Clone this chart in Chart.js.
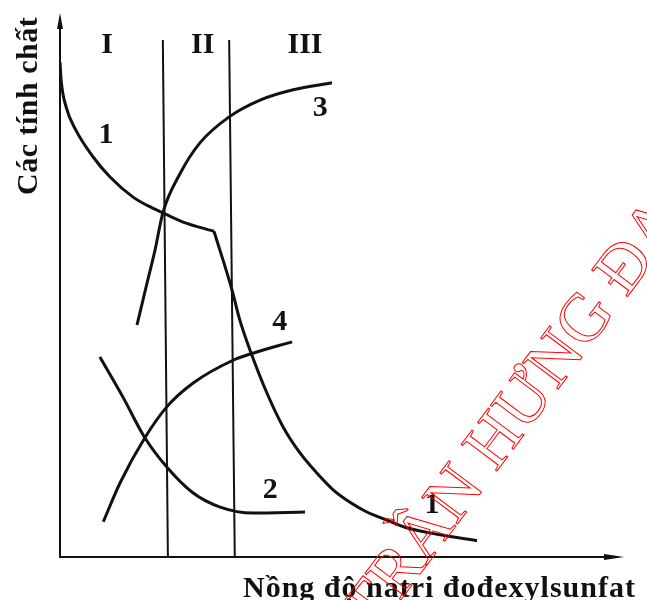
<!DOCTYPE html>
<html>
<head>
<meta charset="utf-8">
<script src="https://cdn.jsdelivr.net/npm/chart.js@4/dist/chart.umd.min.js"></script>
<style>
  body { margin: 0; background: #fff; }
  #grafico { display: block; }
</style>
</head>
<body>
<canvas id="grafico" width="647" height="600"></canvas>
<script>
// DATOS (unidades arbitrarias 0-100)

// Curva 1, antes del quiebre
var curva1aX = [0, 0.2, 1.1, 2.8, 5.9, 8.9, 13.0, 16.4, 18.7, 21.9, 27.4];
var curva1aY = [91.3, 88.0, 83.0, 78.8, 73.8, 70.1, 66.4, 64.4, 63.3, 61.8, 60.1];
// Curva 1, despues del quiebre
var curva1bX = [27.4, 30.6, 32.0, 33.8, 36.8, 39.7, 42.7, 45.7, 48.6, 51.6, 54.6, 58.2, 61.7, 67.6, 74.2];
var curva1bY = [60.1, 49.3, 43.7, 38.2, 30.3, 24.0, 19.2, 15.5, 12.4, 10.1, 8.3, 6.8, 5.4, 4.1, 3.0];

var curva2X = [7.1, 11.2, 15.1, 19.0, 23.7, 28.5, 34.3, 43.6];
var curva2Y = [36.9, 29.5, 22.0, 16.6, 11.8, 9.2, 8.1, 8.3];

var curva3X = [13.7, 15.5, 16.9, 18.3, 21.4, 24.9, 30.1, 35.6, 41.5, 48.4];
var curva3Y = [42.8, 50.6, 56.6, 63.5, 70.8, 76.4, 81.2, 84.3, 86.2, 87.5];

var curva4X = [7.7, 10.7, 15.1, 19.0, 23.7, 30.8, 34.3, 41.3];
var curva4Y = [6.5, 13.7, 22.0, 27.7, 32.1, 36.3, 37.6, 39.7];

// Limites de las zonas I, II, III (arriba y abajo)
var limite1X = [18.3, 19.2];
var limite2X = [30.1, 31.1];
var limiteY = [95.4, 0];

var zonas = ['I', 'II', 'III'];
var etiquetasCurvas = ['1', '3', '4', '2', '1'];

var tituloX = 'Nồng độ natri đođexylsunfat';
var tituloY = 'Các tính chất';
var marcaAgua = 'TRẦN HƯNG ĐẠO';

// Juntar x e y en puntos
function puntos(xs, ys) {
    var res = [];
    for (var i = 0; i < xs.length; i++) {
        res.push({ x: xs[i], y: ys[i] });
    }
    return res;
}

function curva(xs, ys, ancho) {
    return {
        data: puntos(xs, ys),
        borderColor: '#111',
        borderWidth: ancho,
        pointRadius: 0,
        fill: false,
        cubicInterpolationMode: 'monotone'
    };
}

function recta(xs, ys) {
    return {
        data: puntos(xs, ys),
        borderColor: '#111',
        borderWidth: 2,
        pointRadius: 0,
        fill: false,
        tension: 0
    };
}

var fuente = '"Liberation Serif", "DejaVu Serif", serif';

// Marca de agua: centro de la R y centro de la Đ
function dibujarMarca(ctx) {
    var rx = 395, ry = 570, dx = 623, dy = 265;
    var ang = Math.atan2(dy - ry, dx - rx);
    var largo = Math.sqrt((dx - rx) * (dx - rx) + (dy - ry) * (dy - ry));

    ctx.font = '68px ' + fuente;
    var antesR = ctx.measureText('T').width + ctx.measureText('R').width / 2;
    var antesD = ctx.measureText('TRẦN HƯNG ').width + ctx.measureText('Đ').width / 2;
    var tam = 68 * largo / (antesD - antesR);
    ctx.font = tam + 'px ' + fuente;
    antesR = ctx.measureText('T').width + ctx.measureText('R').width / 2;

    var cos = Math.cos(ang), sin = Math.sin(ang);
    var medio = tam * 0.33;
    var ox = rx - antesR * cos - medio * sin;
    var oy = ry - antesR * sin + medio * cos;

    ctx.save();
    ctx.translate(ox, oy);
    ctx.rotate(ang);
    ctx.strokeStyle = '#f00';
    ctx.lineWidth = 1;
    ctx.strokeText(marcaAgua, 0, 0);
    ctx.restore();
}

// Ejes con flechas, textos y marca de agua
var dibujoExtra = {
    id: 'dibujoExtra',
    beforeDraw: function (chart) {
        var ctx = chart.ctx;
        ctx.save();
        ctx.fillStyle = '#fff';
        ctx.fillRect(0, 0, chart.width, chart.height);
        ctx.restore();
    },
    afterDatasetsDraw: function (chart) {
        var ctx = chart.ctx;
        var a = chart.chartArea;
        var sx = chart.scales.x;
        var sy = chart.scales.y;
        ctx.save();

        // ejes
        ctx.strokeStyle = '#111';
        ctx.fillStyle = '#111';
        ctx.lineWidth = 2;
        ctx.beginPath();
        ctx.moveTo(a.left, a.top + 2);
        ctx.lineTo(a.left, a.bottom);
        ctx.lineTo(a.right - 4, a.bottom);
        ctx.stroke();
        // flecha y
        ctx.beginPath();
        ctx.moveTo(a.left, a.top - 2);
        ctx.lineTo(a.left - 3, a.top + 14);
        ctx.lineTo(a.left + 3, a.top + 14);
        ctx.closePath();
        ctx.fill();
        // flecha x
        ctx.beginPath();
        ctx.moveTo(a.right + 2, a.bottom);
        ctx.lineTo(a.right - 18, a.bottom - 3);
        ctx.lineTo(a.right - 18, a.bottom + 3);
        ctx.closePath();
        ctx.fill();

        // zonas
        ctx.font = 'bold 30px ' + fuente;
        ctx.textAlign = 'center';
        ctx.textBaseline = 'middle';
        var zonaX = [8.4, 25.4, 43.6];
        for (var i = 0; i < zonas.length; i++) {
            ctx.fillText(zonas[i], sx.getPixelForValue(zonaX[i]), sy.getPixelForValue(94.5));
        }

        // numeros de las curvas
        var etqX = [8.2, 46.3, 39.1, 37.4, 66.2];
        var etqY = [77.9, 82.8, 43.4, 12.4, 9.6];
        for (var j = 0; j < etiquetasCurvas.length; j++) {
            ctx.fillText(etiquetasCurvas[j], sx.getPixelForValue(etqX[j]), sy.getPixelForValue(etqY[j]));
        }

        // titulos
        ctx.textAlign = 'left';
        ctx.textBaseline = 'alphabetic';
        ctx.letterSpacing = '1px';
        ctx.fillText(tituloX, 243, 597);

        ctx.translate(37, 195);
        ctx.rotate(-Math.PI / 2);
        ctx.letterSpacing = '0.5px';
        ctx.fillText(tituloY, 0, 0);
        ctx.restore();

        dibujarMarca(ctx);
    }
};

var ctx = document.getElementById('grafico').getContext('2d');

var grafico = new Chart(ctx, {
    type: 'line',
    data: {
        datasets: [
            curva(curva1aX, curva1aY, 3),
            curva(curva1bX, curva1bY, 3),
            curva(curva2X, curva2Y, 3),
            curva(curva3X, curva3Y, 3),
            curva(curva4X, curva4Y, 3),
            recta(limite1X, limiteY),
            recta(limite2X, limiteY)
        ]
    },
    options: {
        responsive: false,
        animation: false,
        devicePixelRatio: 1,
        layout: {
            padding: { left: 60, right: 25, top: 15, bottom: 43 }
        },
        plugins: {
            legend: { display: false },
            tooltip: { enabled: false }
        },
        scales: {
            x: { type: 'linear', min: 0, max: 100, display: false },
            y: { type: 'linear', min: 0, max: 100, display: false }
        }
    },
    plugins: [dibujoExtra]
});
</script>
</body>
</html>
